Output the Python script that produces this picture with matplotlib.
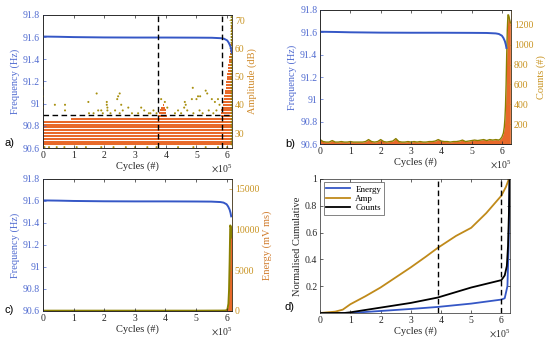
import numpy as np
import matplotlib
matplotlib.use("Agg")
import matplotlib.pyplot as plt

plt.rcParams['font.family'] = ['Liberation Serif', 'DejaVu Serif']
plt.rcParams['mathtext.fontset'] = 'stix'
plt.rcParams['font.size'] = 7

BLUE = '#3557C6'
BLUE_T = '#4F6AD0'
GOLD = '#C8921E'
ORANGE = '#E8692A'
OLIVE = '#8A8000'
GRAY = '#262626'

# ---------------- data ----------------
# frequency (Hz) vs cycles (x1e5)
freq_x = [0.0, 0.5, 1.0, 2.0, 3.0, 4.0, 5.0, 5.5, 5.8, 5.9, 6.0, 6.05, 6.1, 6.13, 6.15]
freq_hz = [91.605, 91.603, 91.600, 91.597, 91.596, 91.596, 91.595, 91.594, 91.590,
           91.585, 91.57, 91.55, 91.52, 91.49, 91.46]

# amplitude (dB): dense hit rows and their extents (x1e5)
amp_rows_db = [26, 27, 28, 29, 30, 31, 32, 33, 34, 35, 36]
amp_rows_start = [0.0, 0.0, 0.0, 0.0, 0.0, 0.0, 0.0, 0.0, 0.0, 0.9, 3.75]
amp_rows_end = [6.16, 6.16, 6.16, 6.16, 6.16, 6.16, 6.16, 6.16, 6.16, 6.16, 4.05]
# burst column around 3.8-4.0e5
burst_rows_db = [37, 38, 39, 40]
burst_start = [3.78, 3.8, 3.85, 3.9]
burst_end = [4.02, 4.0, 3.98, 3.95]
# final spike envelope: top amplitude reached from each cycle onward
spike_x = [5.8, 5.9, 5.95, 6.0, 6.05, 6.1, 6.13, 6.15]
spike_top_db = [38, 42, 46, 51, 55, 60, 66, 71]
spike_col_db = list(range(26, 72))
# sparse hits
sparse_x = [0.0, 0.0, 0.0, 0.0, 0.39, 0.72, 0.72, 1.48, 1.75, 1.9, 2.08, 2.08, 2.1,
            2.45, 2.5, 2.42, 2.55, 2.78, 3.2, 3.3, 3.45, 3.85, 3.97, 4.05, 4.6, 4.62,
            4.65, 4.85, 4.88, 5.0, 5.05, 5.12, 5.3, 5.35, 5.5, 5.6, 5.7, 5.75,
            1.5, 1.65, 1.8, 1.95, 2.1, 2.2, 2.35, 2.5, 2.6, 2.9, 3.1, 3.5, 3.6, 3.7,
            4.3, 4.4, 4.5, 4.7, 4.9, 5.1, 5.2, 5.4, 5.55, 5.65,
            0.05, 0.2, 0.45, 0.7, 1.1, 1.4, 1.9, 2.3, 2.7, 3.0, 3.4, 3.7, 4.4, 4.9,
            5.3, 5.7, 6.0]
sparse_db = [46, 43, 41, 39, 40, 40, 38, 41, 44, 38, 41, 40, 39,
             43, 44, 42, 40, 39, 39, 38, 37, 42, 41, 39, 39, 41,
             40, 42, 46, 42, 43, 43, 45, 44, 42, 41, 42, 40,
             37, 37, 38, 37, 38, 37, 38, 37, 38, 37, 37, 37, 38, 37,
             37, 38, 37, 38, 37, 38, 37, 38, 37, 38,
             25, 25, 25, 25, 25, 25, 25, 25, 25, 25, 25, 25, 25, 25,
             25, 25, 25]
amp_threshold = 36.3
dash_a = [3.75, 5.83]

# counts per bin (x1e5)
counts_x = [0.0, 0.1, 0.2, 0.3, 0.4, 0.5, 0.6, 0.7, 0.8, 0.9, 1.0, 1.1, 1.2, 1.3, 1.4,
            1.5, 1.6, 1.7, 1.8, 1.9, 2.0, 2.1, 2.2, 2.3, 2.4, 2.5, 2.6, 2.7, 2.8, 2.9,
            3.0, 3.1, 3.2, 3.3, 3.4, 3.5, 3.6, 3.7, 3.8, 3.9, 4.0, 4.1, 4.2, 4.3, 4.4,
            4.5, 4.6, 4.7, 4.8, 4.9, 5.0, 5.1, 5.2, 5.3, 5.4, 5.5, 5.6, 5.7, 5.8,
            5.9, 5.95, 6.0, 6.05, 6.08, 6.1, 6.12, 6.14, 6.16, 6.18, 6.2, 6.22, 6.25, 6.28]
counts_val = [45, 25, 20, 20, 35, 20, 20, 25, 20, 20, 25, 20, 20, 20, 20,
              25, 45, 25, 20, 25, 45, 25, 20, 25, 30, 55, 25, 20, 20, 25,
              20, 25, 20, 25, 20, 20, 25, 25, 30, 45, 30, 25, 25, 20, 25,
              25, 30, 40, 25, 30, 35, 40, 35, 40, 45, 35, 45, 40, 45,
              40, 50, 70, 110, 170, 250, 380, 600, 900, 1150, 1300, 1300, 1260, 1220]

# energy (mV ms)
energy_x = [0.0, 1.0, 2.0, 3.0, 4.0, 5.0, 5.8, 5.95, 6.0, 6.03, 6.06, 6.08, 6.1, 6.12,
            6.14, 6.16, 6.18]
energy_val = [40, 40, 40, 40, 40, 40, 50, 60, 100, 250, 900, 2500, 6000, 10500,
              10300, 9500, 9000]

# normalised cumulative
cum_x_amp = [0.0, 0.5, 0.75, 1.0, 1.5, 2.0, 2.5, 3.0, 3.5, 3.89, 4.5, 5.0, 5.5, 6.0,
             6.15, 6.25]
cum_amp = [0.0, 0.01, 0.025, 0.065, 0.125, 0.19, 0.265, 0.34, 0.42, 0.485, 0.575,
           0.635, 0.745, 0.875, 0.94, 1.0]
cum_x_cnt = [0.0, 0.8, 1.0, 2.0, 3.0, 3.89, 5.0, 6.0, 6.11, 6.18, 6.22, 6.25, 6.27]
cum_cnt = [0.0, 0.0, 0.005, 0.04, 0.075, 0.115, 0.19, 0.245, 0.28, 0.35, 0.5, 0.75, 1.0]
cum_x_en = [0.0, 1.0, 2.0, 3.0, 3.89, 5.0, 6.0, 6.11, 6.2, 6.24, 6.27]
cum_en = [0.0, 0.0, 0.015, 0.03, 0.045, 0.07, 0.10, 0.11, 0.2, 0.5, 1.0]
dash_d = [3.89, 5.98]

freq_ticks = [90.6, 90.8, 91.0, 91.2, 91.4, 91.6, 91.8]
freq_labels = ['90.6', '90.8', '91', '91.2', '91.4', '91.6', '91.8']
x_ticks = [0, 1, 2, 3, 4, 5, 6]

E5 = 1e5

fig = plt.figure(figsize=(5.5, 3.43), dpi=100)


def style_left(ax, xmax):
    ax.set_xlim(0, xmax * E5)
    ax.set_ylim(90.6, 91.8)
    ax.set_yticks(freq_ticks)
    ax.set_yticklabels(freq_labels)
    ax.set_xticks([t * E5 for t in x_ticks])
    ax.set_xticklabels([str(t) for t in x_ticks])
    ax.tick_params(axis='y', colors=BLUE_T, direction='in', length=2.5, width=0.5, pad=2)
    ax.tick_params(axis='x', colors=GRAY, direction='in', length=2.5, width=0.5, pad=2,
                   top=True)
    for s in ax.spines.values():
        s.set_linewidth(0.5)
        s.set_color(GRAY)
    ax.set_ylabel('Frequency (Hz)', color=BLUE_T, labelpad=2, fontsize=7.5)
    ax.set_xlabel('Cycles (#)', color=GRAY, labelpad=1, fontsize=7.5)
    ax.text(1.0, -0.105, r'$\times\mathregular{10^5}$', transform=ax.transAxes,
            ha='right', va='top', fontsize=7, color=GRAY)


def style_right(ax2, label, color=GOLD):
    ax2.tick_params(axis='y', colors=GOLD, direction='in', length=2.5, width=0.5, pad=2)
    ax2.spines['right'].set_color(GOLD)
    for s in ax2.spines.values():
        s.set_linewidth(0.5)
    ax2.set_ylabel(label, color=color, labelpad=2, fontsize=7.5)


# ---------------- a ----------------
axa = fig.add_axes([0.078, 0.5685, 0.344, 0.388])
axa2 = axa.twinx()
axa.set_zorder(axa2.get_zorder() + 1)
axa.patch.set_visible(False)
style_left(axa, 6.16)
axa2.set_ylim(24.7, 71.8)
axa2.set_yticks([30, 40, 50, 60, 70])
style_right(axa2, 'Amplitude (dB)', '#D08A2A')

for r, s, e in zip(amp_rows_db, amp_rows_start, amp_rows_end):
    axa2.hlines(r, s * E5, e * E5, color=ORANGE, lw=1.45)
for r, s, e in zip(burst_rows_db, burst_start, burst_end):
    axa2.hlines(r, s * E5, e * E5, color=ORANGE, lw=1.45)
sx = np.array(spike_x) * E5
for r in range(36, 72):
    xs = np.interp(r, spike_top_db, sx)
    axa2.hlines(r, xs, 6.16 * E5, color=ORANGE, lw=1.45)
axa2.scatter(np.full(len(spike_col_db), 6.14 * E5), spike_col_db, s=2,
             facecolor=OLIVE, edgecolor='none', zorder=3)
axa2.scatter(np.array(sparse_x) * E5, sparse_db, s=2.2, facecolor='#A89010',
             edgecolor='none', zorder=3)
axa2.axhline(amp_threshold, color='k', ls=(0, (4, 2.5)), lw=1.0, zorder=4)
axa.plot(np.array(freq_x) * E5, freq_hz, color=BLUE, lw=1.4)
for d in dash_a:
    axa.axvline(d * E5, color='k', ls=(0, (4, 2.5)), lw=1.0)

# ---------------- b ----------------
axb = fig.add_axes([0.582, 0.580, 0.347, 0.391])
axb2 = axb.twinx()
axb.set_zorder(axb2.get_zorder() + 1)
axb.patch.set_visible(False)
style_left(axb, 6.30)
axb2.set_ylim(0, 1350)
axb2.set_yticks([200, 400, 600, 800, 1000, 1200])
style_right(axb2, 'Counts (#)')
cx = np.array(counts_x) * E5
axb2.fill_between(cx, 0, counts_val, color=ORANGE, lw=0)
axb2.plot(cx, counts_val, color=OLIVE, lw=1.0)
axb.plot(np.array(freq_x) * E5, freq_hz, color=BLUE, lw=1.4)

# ---------------- c ----------------
axc = fig.add_axes([0.078, 0.0933, 0.344, 0.385])
axc2 = axc.twinx()
axc.set_zorder(axc2.get_zorder() + 1)
axc.patch.set_visible(False)
style_left(axc, 6.18)
axc2.set_ylim(0, 16200)
axc2.set_yticks([0, 5000, 10000, 15000])
style_right(axc2, 'Energy (mV ms)', '#D07A2A')
ex = np.array(energy_x) * E5
axc2.fill_between(ex, 0, energy_val, color=ORANGE, lw=0)
axc2.plot(ex, energy_val, color=OLIVE, lw=1.4)
axc.plot(np.array(freq_x) * E5, freq_hz, color=BLUE, lw=1.4)

# ---------------- d ----------------
axd = fig.add_axes([0.582, 0.0875, 0.345, 0.391])
axd.plot(np.array(cum_x_en) * E5, cum_en, color=BLUE, lw=1.3, label='Energy')
axd.plot(np.array(cum_x_amp) * E5, cum_amp, color='#C08A1A', lw=1.3, label='Amp')
axd.plot(np.array(cum_x_cnt) * E5, cum_cnt, color='k', lw=1.3, label='Counts')
for d in dash_d:
    axd.axvline(d * E5, color='k', ls=(0, (4, 2.5)), lw=1.0)
axd.set_xlim(0, 6.28 * E5)
axd.set_ylim(0, 1)
axd.set_yticks([0.2, 0.4, 0.6, 0.8, 1.0])
axd.set_yticklabels(['0.2', '0.4', '0.6', '0.8', '1'])
axd.set_xticks([t * E5 for t in x_ticks])
axd.set_xticklabels([str(t) for t in x_ticks])
axd.tick_params(colors=GRAY, direction='in', length=2.5, width=0.5, pad=2,
                top=True, right=True)
for s in axd.spines.values():
    s.set_linewidth(0.5)
    s.set_color(GRAY)
axd.set_ylabel('Normalised Cumulative', color=GRAY, labelpad=2, fontsize=7.5)
axd.set_xlabel('Cycles (#)', color=GRAY, labelpad=1, fontsize=7.5)
axd.text(1.0, -0.105, r'$\times\mathregular{10^5}$', transform=axd.transAxes,
         ha='right', va='top', fontsize=7, color=GRAY)
leg = axd.legend(loc='upper left', fontsize=6.5, frameon=True, fancybox=False,
                 handlelength=2.6, borderpad=0.3, labelspacing=0.1,
                 borderaxespad=0.4, handletextpad=0.6)
leg.get_frame().set_edgecolor(GRAY)
leg.get_frame().set_linewidth(0.5)

# panel letters
for lbl, x, y in [('a)', 0.009, 0.583), ('b)', 0.518, 0.580),
                  ('c)', 0.009, 0.096), ('d)', 0.518, 0.105)]:
    fig.text(x, y, lbl, family='Liberation Sans', fontsize=8, va='center', ha='left')

fig.savefig('out.png', dpi=100)
